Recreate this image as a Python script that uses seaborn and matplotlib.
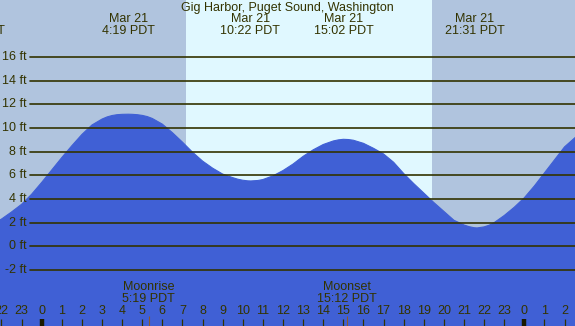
import pandas as pd
import seaborn as sns
import matplotlib.pyplot as plt
import matplotlib.transforms as mtransforms

# Tide height (hours from midnight Mar 21, feet)
hours = [-2.1, -2.0, -1.5, -1.0, -0.5, 0.0, 0.5, 1.0, 1.5, 2.0, 2.5, 3.0, 3.25, 3.5, 3.75,
         4.0, 4.3, 4.5, 4.75, 5.0, 5.25, 5.5, 6.0, 6.5, 7.0, 7.5, 8.0, 8.5, 9.0, 9.5,
         9.75, 10.0, 10.25, 10.4, 10.75, 11.0, 11.5, 12.0, 12.5, 13.0, 13.5, 14.0, 14.5,
         14.75, 15.0, 15.25, 15.5, 16.0, 16.5, 17.0, 17.5, 18.0, 18.5, 19.0, 19.5, 20.0,
         20.5, 21.0, 21.25, 21.5, 21.65, 22.0, 22.25, 22.5, 23.0, 23.5, 24.0, 24.5, 25.0,
         25.5, 26.0, 26.6]
heights = [2.2, 2.3, 2.9, 3.55, 4.4, 5.4, 6.45, 7.5, 8.5, 9.45, 10.25, 10.75, 10.93, 11.05, 11.12,
           11.15, 11.16, 11.15, 11.12, 11.06, 10.96, 10.8, 10.32, 9.6, 8.8, 7.95, 7.2, 6.6, 6.1, 5.8,
           5.67, 5.58, 5.53, 5.52, 5.56, 5.64, 5.95, 6.4, 6.95, 7.6, 8.15, 8.6, 8.9,
           8.99, 9.04, 9.02, 8.96, 8.7, 8.28, 7.8, 7.1, 6.15, 5.3, 4.5, 3.7, 2.95,
           2.2, 1.8, 1.66, 1.57, 1.55, 1.64, 1.78, 2.0, 2.6, 3.3, 4.1, 5.1, 6.2,
           7.3, 8.4, 9.3]

# high / low tide labels
tide_hours = [-3.33, 4.317, 10.367, 15.033, 21.517]
tide_dates = ['Mar 20', 'Mar 21', 'Mar 21', 'Mar 21', 'Mar 21']
tide_times = ['20:40 PDT', '4:19 PDT', '10:22 PDT', '15:02 PDT', '21:31 PDT']

# moon events
moon_hours = [5.317, 15.2]
moon_names = ['Moonrise', 'Moonset']
moon_times = ['5:19 PDT', '15:12 PDT']

sunrise, sunset = 7.17, 19.42
grid_levels = [-2, 0, 2, 4, 6, 8, 10, 12, 14, 16]
hour_ticks = list(range(-2, 27))

night_color = '#b0c4de'
day_color = '#e0f8ff'
water = '#4060d5'
ink = '#333300'

sns.set_style('white')
plt.rcParams['font.family'] = ['Liberation Sans', 'DejaVu Sans']

W, H = 575, 326
fig = plt.figure(figsize=(W / 100, H / 100), dpi=100)
fig.patch.set_facecolor(night_color)
ax = fig.add_axes([0, 0, 1, 1])
ax.set_xlim(-2.074, 26.52)
ax.set_ylim(-6.735, 20.81)

ax.axvspan(sunrise, sunset, color=day_color, lw=0, zorder=0)

tide = pd.DataFrame({'hour': hours, 'height': heights})
ax.fill_between(tide['hour'], tide['height'], -10, color=water, lw=0, zorder=1)
sns.lineplot(data=tide, x='hour', y='height', color=water, lw=0.8, ax=ax, zorder=2)
ax.set_axis_off()

# horizontal grid + labels
ylab = mtransforms.blended_transform_factory(ax.transAxes, ax.transData)
for lev in grid_levels:
    ax.axhline(lev, xmin=29.5 / W, xmax=1, color=ink, lw=1.2, zorder=3)
    ax.text(27 / W, lev, f'{lev} ft', transform=ylab, ha='right', va='center',
            fontsize=9, color=ink, zorder=4)

xt = ax.get_xaxis_transform()

def fy(py):
    return 1 - py / H

ax.text(0.5, fy(7.5), 'Gig Harbor, Puget Sound, Washington', transform=ax.transAxes,
        ha='center', va='center', fontsize=9, color=ink)
for th, d, t in zip(tide_hours, tide_dates, tide_times):
    ax.text(th, fy(19.5), d, transform=xt, ha='center', va='center', fontsize=9, color=ink)
    ax.text(th, fy(31.5), t, transform=xt, ha='center', va='center', fontsize=9, color=ink)

for mh, n, t in zip(moon_hours, moon_names, moon_times):
    ax.text(mh, fy(287.5), n, transform=xt, ha='center', va='center', fontsize=9, color=ink)
    ax.text(mh, fy(299.5), t, transform=xt, ha='center', va='center', fontsize=9, color=ink)
    ax.vlines(mh, 0, 10 / H, transform=xt, color='#8b5a2b', lw=0.8, zorder=5)

# hour ticks along bottom
for h in hour_ticks:
    ax.text(h, fy(311.5), str(h % 24), transform=xt, ha='center', va='center',
            fontsize=9, color=ink)
    thick = h % 24 == 0
    ax.vlines(h, 0, 7 / H, transform=xt, color='#1a1a00' if thick else ink,
              lw=3.2 if thick else 0.9, zorder=5)

fig.savefig('out.png', dpi=100, facecolor=fig.get_facecolor())
